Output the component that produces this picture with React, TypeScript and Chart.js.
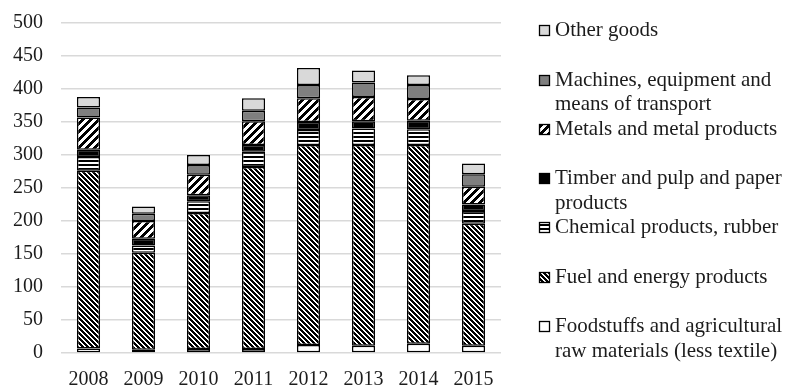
import { useEffect, useRef } from "react";
import { Chart, registerables } from "chart.js";

Chart.register(...registerables);

// Export structure by commodity group, 2008–2015
const years = ["2008", "2009", "2010", "2011", "2012", "2013", "2014", "2015"];
const foodstuffs = [7, 5, 6, 6, 12, 11, 14, 11];
const fuelEnergy = [269, 147, 206, 276, 303, 304, 301, 185];
const chemicals = [21, 11, 18, 23, 23, 25, 24, 19];
const timberPaper = [11, 10, 9, 10, 12, 11, 13, 10];
const metals = [49, 27, 31, 36, 36, 37, 33, 27];
const machines = [15, 11, 15, 16, 20, 22, 21, 19];
const otherGoods = [16, 11, 15, 19, 26, 18, 15, 16];
const yTickValues = [0, 50, 100, 150, 200, 250, 300, 350, 400, 450, 500];

const legendFood = ["Foodstuffs and agricultural", "raw materials (less textile)"];
const legendFuel = ["Fuel and energy products"];
const legendChem = ["Chemical products, rubber"];
const legendTimber = ["Timber and pulp and paper", "products"];
const legendMetals = ["Metals and metal products"];
const legendMachines = ["Machines, equipment and", "means of transport"];
const legendOther = ["Other goods"];

const FONT = "'Liberation Serif', 'Times New Roman', serif";
const TEXT = "#1c1c1c";

type Kind = "down" | "wideUp" | "horiz";

// Black/white hatch tiles built pixel by pixel so they stay crisp
function hatch(kind: Kind): CanvasPattern | string {
  const size = kind === "wideUp" ? 8 : kind === "down" ? 5 : 4;
  const c = document.createElement("canvas");
  c.width = size;
  c.height = size;
  const g = c.getContext("2d");
  if (!g) return "#000";
  const img = g.createImageData(size, size);
  for (let y = 0; y < size; y++) {
    for (let x = 0; x < size; x++) {
      let dark = false;
      if (kind === "down") dark = ((x - y + size * 10) % size) < 3;
      else if (kind === "wideUp") dark = ((x + y) % size) < 4;
      else dark = y % size < 2;
      const i = (y * size + x) * 4;
      const v = dark ? 0 : 255;
      img.data[i] = v;
      img.data[i + 1] = v;
      img.data[i + 2] = v;
      img.data[i + 3] = 255;
    }
  }
  g.putImageData(img, 0, 0);
  return g.createPattern(c, "repeat") || "#000";
}

const sideLegend = {
  id: "sideLegend",
  afterDraw(chart: any) {
    const ctx: CanvasRenderingContext2D = chart.ctx;
    const area = chart.chartArea;
    const items = [...chart.data.datasets].reverse();
    const swatchX = area.right + 38;
    const textX = swatchX + 16;
    const firstY = area.top + 7.7;
    const slot = 49.3;
    const lineH = 24.7;
    ctx.save();
    ctx.font = `21px ${FONT}`;
    ctx.textBaseline = "middle";
    ctx.textAlign = "left";
    items.forEach((ds: any, i: number) => {
      const y = firstY + i * slot;
      const sx = Math.round(swatchX);
      const sy = Math.round(y - 5.5);
      ctx.fillStyle = ds.backgroundColor;
      ctx.fillRect(sx, sy, 11, 11);
      ctx.strokeStyle = "#000";
      ctx.lineWidth = 1.3;
      ctx.strokeRect(sx + 0.5, sy + 0.5, 10, 10);
      ctx.fillStyle = TEXT;
      (ds.legendLines as string[]).forEach((line, j) => {
        ctx.fillText(line, textX, y + j * lineH);
      });
    });
    ctx.restore();
  },
};

export default function App() {
  const ref = useRef<HTMLCanvasElement>(null);

  useEffect(() => {
    if (!ref.current) return;
    const bar = (label: string, data: number[], fill: any, legendLines: string[]) => ({
      label,
      data,
      backgroundColor: fill,
      borderColor: "#000",
      borderWidth: 1.5,
      borderSkipped: false,
      legendLines,
    });
    const chart = new Chart(ref.current, {
      type: "bar",
      data: {
        labels: years,
        datasets: [
          bar("Foodstuffs", foodstuffs, "#ffffff", legendFood),
          bar("Fuel", fuelEnergy, hatch("down"), legendFuel),
          bar("Chemicals", chemicals, hatch("horiz"), legendChem),
          bar("Timber", timberPaper, "#000000", legendTimber),
          bar("Metals", metals, hatch("wideUp"), legendMetals),
          bar("Machines", machines, "#7f7f7f", legendMachines),
          bar("Other", otherGoods, "#d9d9d9", legendOther),
        ] as any,
      },
      options: {
        responsive: false,
        animation: false,
        devicePixelRatio: 1,
        layout: { padding: { top: 23, right: 285, left: 0, bottom: 0 } },
        datasets: { bar: { categoryPercentage: 1, barPercentage: 0.42 } },
        plugins: { legend: { display: false }, tooltip: { enabled: false } },
        scales: {
          x: {
            stacked: true,
            grid: { display: false },
            border: { display: false },
            ticks: { color: TEXT, font: { family: FONT, size: 20 }, padding: 7, maxRotation: 0 },
            afterFit: (s: any) => {
              s.height = 35;
              s.paddingLeft = 0;
              s.paddingRight = 0;
            },
          },
          y: {
            stacked: true,
            min: 0,
            max: 500,
            grid: { color: "#d9d9d9", lineWidth: 1.5, drawTicks: false },
            border: { display: false },
            afterBuildTicks: (s: any) => {
              s.ticks = yTickValues.map((v) => ({ value: v }));
            },
            ticks: { color: TEXT, font: { family: FONT, size: 20 }, padding: 18 },
            afterFit: (s: any) => {
              s.width = 61;
              s.paddingTop = 0;
              s.paddingBottom = 0;
            },
          },
        },
      },
      plugins: [sideLegend],
    });
    return () => chart.destroy();
  }, []);

  return (
    <div style={{ position: "fixed", left: 0, top: 0, width: 786, height: 388, background: "#fff" }}>
      <canvas ref={ref} width={786} height={388} style={{ display: "block" }} />
    </div>
  );
}
